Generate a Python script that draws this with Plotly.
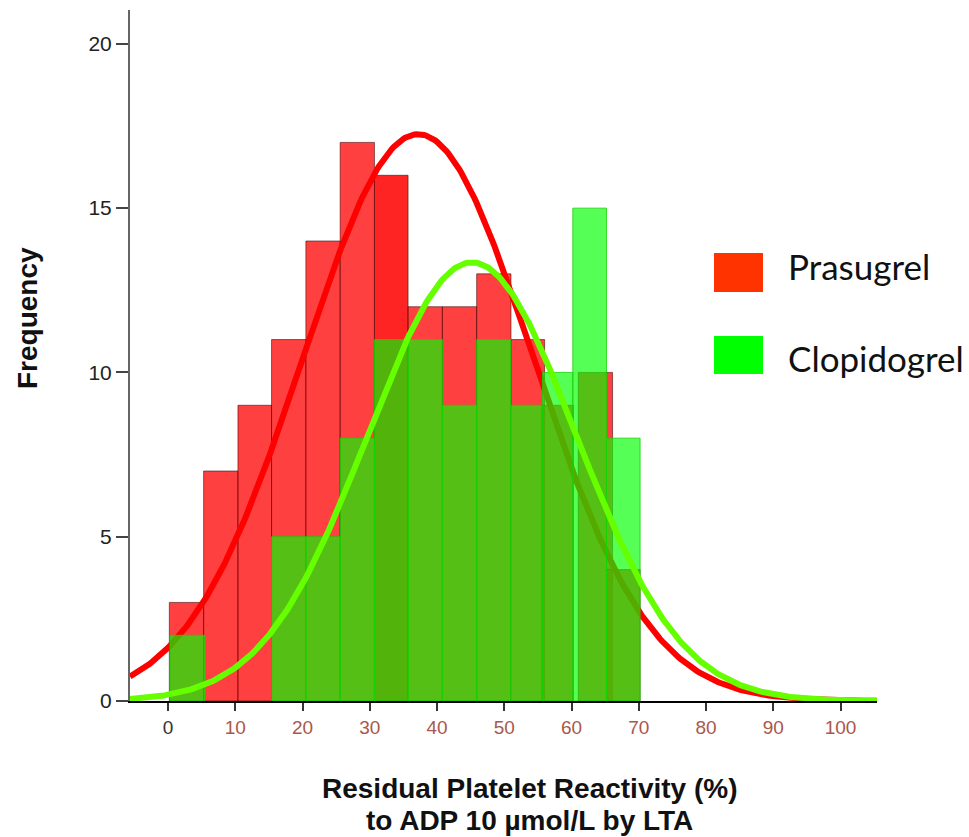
import numpy as np
import plotly.graph_objects as go

# ---------------- data ----------------
# Prasugrel histogram (bin left edge, bin right edge, frequency)
pras_left = [0.2, 5.3, 10.4, 15.4, 20.5, 25.6, 30.7, 35.7, 40.8, 45.9, 51.0, 55.6, 61.0, 65.2]
pras_right = [5.3, 10.4, 15.4, 20.5, 25.6, 30.7, 35.7, 40.8, 45.9, 51.0, 56.0, 60.3, 66.1, 70.2]
pras_freq = [3, 7, 9, 11, 14, 17, 16, 12, 12, 13, 11, 9, 10, 4]

# Clopidogrel histogram
clop_left = [0.3, 15.4, 20.5, 25.6, 30.7, 35.7, 40.8, 45.9, 51.0, 55.7, 60.2, 65.2]
clop_right = [5.5, 20.5, 25.6, 30.7, 35.7, 40.8, 45.9, 51.0, 55.7, 60.2, 65.2, 70.2]
clop_freq = [2, 5, 5, 8, 11, 11, 9, 11, 9, 10, 15, 8]

# Normal fit curves (mean, sd, peak height)
pras_mean, pras_sd, pras_peak = 37.2, 17.1, 17.25
clop_mean, clop_sd, clop_peak = 45.2, 15.5, 13.35

x_ticks = [0, 10, 20, 30, 40, 50, 60, 70, 80, 90, 100]
y_ticks = [0, 5, 10, 15, 20]
legend_names = ["Prasugrel", "Clopidogrel"]
x_title_lines = ["Residual Platelet Reactivity (%)", "to ADP 10 µmol/L by LTA"]
y_title = "Frequency"

# ---------------- layout constants ----------------
W, H = 969, 837
ML, MR, MT, MB = 130, 92, 10, 136
X_RANGE = [-5.65, -5.65 + (W - ML - MR) / 6.725]
Y_RANGE = [0, 21.03]
FONT = "Liberation Sans, Arial, Helvetica, sans-serif"

def centers_widths(left, right):
    l = np.array(left, float)
    r = np.array(right, float)
    return (l + r) / 2, r - l

xs = np.linspace(X_RANGE[0], X_RANGE[1], 400)
pras_curve = pras_peak * np.exp(-((xs - pras_mean) ** 2) / (2 * pras_sd ** 2))
clop_curve = clop_peak * np.exp(-((xs - clop_mean) ** 2) / (2 * clop_sd ** 2))

fig = go.Figure()

pc, pw = centers_widths(pras_left, pras_right)
pras_colors = ["rgba(255,0,0,0.86)" if i == 6 else "rgba(255,0,0,0.75)" for i in range(len(pras_freq))]
fig.add_trace(go.Bar(x=pc, y=pras_freq, width=pw, marker=dict(color=pras_colors,
                     line=dict(color="rgba(60,0,0,0.55)", width=1)),
                     showlegend=False, hoverinfo="skip"))
fig.add_trace(go.Scatter(x=xs, y=pras_curve, mode="lines",
                         line=dict(color="#ff0000", width=6), showlegend=False, hoverinfo="skip"))

cc, cw = centers_widths(clop_left, clop_right)
clop_colors = ["rgba(0,248,0,0.68)" if i == 4 else "rgba(0,255,0,0.667)" for i in range(len(clop_freq))]
fig.add_trace(go.Bar(x=cc, y=clop_freq, width=cw, marker=dict(color=clop_colors,
                     line=dict(color="rgba(20,210,0,0.8)", width=1)),
                     xaxis="x2", yaxis="y2", showlegend=False, hoverinfo="skip"))
fig.add_trace(go.Scatter(x=xs, y=clop_curve, mode="lines",
                         line=dict(color="#66ff00", width=6), xaxis="x2", yaxis="y2",
                         showlegend=False, hoverinfo="skip"))

x_ticktext = ['<span style="color:#333333">%d</span>' % v if v == 0 else str(v) for v in x_ticks]

fig.update_layout(
    width=W, height=H,
    margin=dict(l=ML, r=MR, t=MT, b=MB),
    paper_bgcolor="white", plot_bgcolor="white",
    barmode="overlay",
    font=dict(family=FONT, color="#222222"),
    xaxis=dict(range=X_RANGE, showgrid=False, zeroline=False, showline=True,
               linecolor="black", linewidth=1.5, ticks="outside", ticklen=8,
               tickwidth=1.5, tickcolor="#333333", tickvals=x_ticks, ticktext=x_ticktext,
               tickfont=dict(size=19, color="#a9584a", family=FONT), layer="below traces"),
    yaxis=dict(range=Y_RANGE, showgrid=False, zeroline=False, showline=True,
               linecolor="#666666", linewidth=2, ticks="outside", ticklen=12,
               tickwidth=1.5, tickcolor="#444444", tickvals=y_ticks,
               tickfont=dict(size=21, color="#222222", family=FONT)),
    xaxis2=dict(range=X_RANGE, overlaying="x", visible=False),
    yaxis2=dict(range=Y_RANGE, overlaying="y", visible=False),
)

PW, PH = W - ML - MR, H - MT - MB
def px(x):
    return (x - ML) / PW
def py(y):
    return (701 - y) / PH

# axis titles
fig.add_annotation(text="<b>%s</b>" % y_title, xref="paper", yref="paper",
                   x=px(27), y=py(318),
                   textangle=-90, showarrow=False, xanchor="center", yanchor="middle",
                   font=dict(family=FONT, size=28, color="#111111"))
for line, yc in zip(x_title_lines, [789, 820]):
    fig.add_annotation(text="<b>%s</b>" % line, xref="paper", yref="paper",
                       x=px(529), y=py(yc), showarrow=False,
                       xanchor="center", yanchor="middle",
                       font=dict(family=FONT, size=28, color="#111111"))

# legend swatches and labels
legend_colors = ["#ff3300", "#00ff00"]
sw_top = [253, 336]
sw_bot = [292, 374]
txt_y = [266, 358]
for name, col, t, b, ty in zip(legend_names, legend_colors, sw_top, sw_bot, txt_y):
    fig.add_shape(type="rect", xref="paper", yref="paper",
                  x0=px(714), x1=px(763), y0=py(b), y1=py(t),
                  fillcolor=col, line=dict(width=0))
    fig.add_annotation(text=name, xref="paper", yref="paper", x=px(786), y=py(ty),
                       xanchor="left", yanchor="middle", showarrow=False,
                       font=dict(family="Lato, Open Sans, sans-serif", size=35, color="#111111"))

fig.write_html("out.html")
